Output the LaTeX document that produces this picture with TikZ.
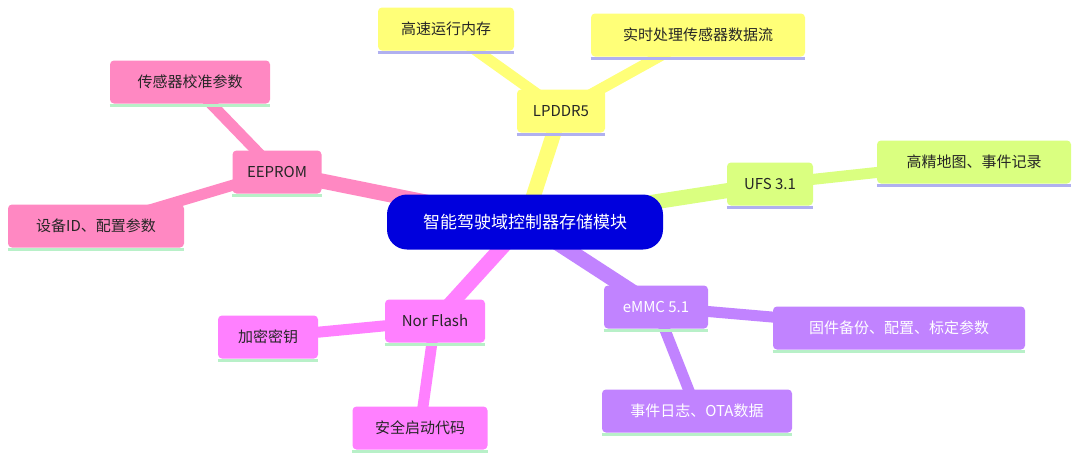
\documentclass[tikz,border=0pt]{standalone}
\usepackage{fontspec}
\setmainfont{Noto Sans CJK SC}
\begin{document}
\begin{tikzpicture}[x=1pt,y=-1pt,
 box/.style={rectangle,rounded corners=4pt,inner sep=0pt,minimum height=43pt,font=\fontsize{15}{18}\selectfont,text=black!85},
 ul/.style={line width=3pt},
 e1/.style={line width=15pt},
 e2/.style={line width=11pt}]
\definecolor{colY}{HTML}{FFFF78}
\definecolor{colG}{HTML}{DAFF80}
\definecolor{colP}{HTML}{FF88C2}
\definecolor{colM}{HTML}{FF80FF}
\definecolor{colV}{HTML}{C183FF}
\definecolor{colLav}{HTML}{B0B0F0}
\definecolor{colLgr}{HTML}{B8F0C8}
\definecolor{colRoot}{HTML}{0000DD}
\useasboundingbox (0,0) rectangle (1080,453);
\fill[white] (0,0) rectangle (1080,453);
\coordinate (rc) at (525,222);
\coordinate (lp) at (561,111);
\coordinate (a1) at (446,29);
\coordinate (a2) at (698,35);
\coordinate (uf) at (770,184);
\coordinate (b1) at (974,162);
\coordinate (ee) at (277,172);
\coordinate (c1) at (190,82);
\coordinate (c2) at (96,226);
\coordinate (nf) at (435,321);
\coordinate (d1) at (268,337);
\coordinate (d2) at (420,428);
\coordinate (em) at (656,307);
\coordinate (f1) at (899,328);
\coordinate (f2) at (697,411);
\draw[e2,colY] (lp)--(a1) (lp)--(a2);
\draw[e2,colG] (uf)--(b1);
\draw[e2,colP] (ee)--(c1) (ee)--(c2);
\draw[e2,colM] (nf)--(d1) (nf)--(d2);
\draw[e2,colV] (em)--(f1) (em)--(f2);
\draw[e1,colY] (rc)--(lp);
\draw[e1,colG] (rc)--(uf);
\draw[e1,colP] (rc)--(ee);
\draw[e1,colM] (rc)--(nf);
\draw[e1,colV] (rc)--(em);
\newcommand{\bx}[6]{%
 \node[box,fill=#4,minimum width=#3pt] (#1) at (#2) {#6};
 \draw[ul,#5] ([yshift=-1.5pt]#1.south west)--([yshift=-1.5pt]#1.south east);}
\bx{nlp}{lp}{88}{colY}{colLav}{LPDDR5}
\bx{na1}{a1}{136}{colY}{colLav}{高速运行内存}
\bx{na2}{a2}{214}{colY}{colLav}{实时处理传感器数据流}
\bx{nuf}{uf}{86}{colG}{colLav}{UFS 3.1}
\bx{nb1}{b1}{194}{colG}{colLav}{高精地图、事件记录}
\bx{nee}{ee}{89}{colP}{colLgr}{EEPROM}
\bx{nc1}{c1}{160}{colP}{colLgr}{传感器校准参数}
\bx{nc2}{c2}{176}{colP}{colLgr}{设备ID、配置参数}
\bx{nnf}{nf}{100}{colM}{colLgr}{Nor Flash}
\bx{nd1}{d1}{100}{colM}{colLgr}{加密密钥}
\bx{nd2}{d2}{135}{colM}{colLgr}{安全启动代码}
\bx{nem}{em}{104}{colV}{colLgr}{\textcolor{white}{eMMC 5.1}}
\bx{nf1}{f1}{252}{colV}{colLgr}{\textcolor{white}{固件备份、配置、标定参数}}
\bx{nf2}{f2}{190}{colV}{colLgr}{\textcolor{white}{事件日志、OTA数据}}
\node[rectangle,rounded corners=20pt,fill=colRoot,text=white,minimum width=276pt,minimum height=55pt,font=\fontsize{17}{20}\selectfont] (root) at (rc) {智能驾驶域控制器存储模块};
\end{tikzpicture}
\end{document}
